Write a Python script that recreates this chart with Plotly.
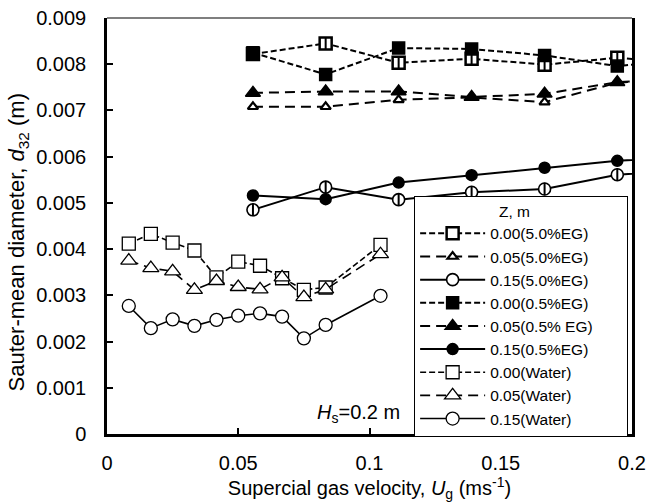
import plotly.graph_objects as go

# ---------------- data ----------------
ug_water = [0.0083, 0.0167, 0.025, 0.0333, 0.0417, 0.05, 0.0583, 0.0667, 0.075, 0.0833, 0.1042]
ug_eg = [0.0556, 0.0833, 0.1111, 0.1389, 0.1667, 0.1944, 0.2222]

d32_000_eg50 = [0.00822, 0.00845, 0.00803, 0.00812, 0.00799, 0.00814, 0.00800]
d32_005_eg50 = [0.00708, 0.00708, 0.00723, 0.00728, 0.00718, 0.00760, 0.00770]
d32_015_eg50 = [0.00485, 0.00534, 0.00507, 0.00523, 0.00530, 0.00561, 0.00570]
d32_000_eg05 = [0.00825, 0.00778, 0.00835, 0.00833, 0.00819, 0.00796, 0.00810]
d32_005_eg05 = [0.00738, 0.00741, 0.00741, 0.00729, 0.00736, 0.00761, 0.00770]
d32_015_eg05 = [0.00516, 0.00508, 0.00544, 0.00560, 0.00576, 0.00591, 0.00600]
d32_000_water = [0.00412, 0.00433, 0.00414, 0.00397, 0.00339, 0.00373, 0.00364, 0.00337, 0.00312, 0.00317, 0.00409]
d32_005_water = [0.00375, 0.00359, 0.00352, 0.00312, 0.00331, 0.00318, 0.00313, 0.00339, 0.00296, 0.00313, 0.00389]
d32_015_water = [0.00277, 0.00229, 0.00248, 0.00234, 0.00247, 0.00256, 0.00261, 0.00254, 0.00207, 0.00236, 0.00299]

names = ["0.00(5.0%EG)", "0.05(5.0%EG)", "0.15(5.0%EG)",
         "0.00(0.5%EG)", "0.05(0.5% EG)", "0.15(0.5%EG)",
         "0.00(Water)", "0.05(Water)", "0.15(Water)"]

FONT = "Liberation Sans, Arial, sans-serif"
SHORT = "6px,3px"
LONG = "10px,6px"

fig = go.Figure()

def add(x, y, name, symbol, size, fill, dash, lw=2, mlw=1.5, overlay=None):
    fig.add_trace(go.Scatter(
        x=x, y=y, name=name, mode="lines+markers",
        line=dict(color="black", width=lw, dash=dash),
        marker=dict(symbol=symbol, size=size, color=fill,
                    line=dict(color="black", width=mlw)),
    ))
    if overlay is not None:
        fig.add_trace(go.Scatter(
            x=x, y=y, mode="markers", showlegend=False, hoverinfo="skip",
            marker=dict(symbol="line-ns", size=overlay, color="black",
                        line=dict(color="black", width=2)),
        ))

add(ug_eg, d32_000_eg50, names[0], "square", 12, "white", SHORT, mlw=2.5, overlay=8)
add(ug_eg, d32_005_eg50, names[1], "triangle-up", 9, "white", LONG, mlw=2.2)
add(ug_eg, d32_015_eg50, names[2], "circle", 12, "white", "solid", mlw=1.6, overlay=9)
add(ug_eg, d32_000_eg05, names[3], "square", 12, "black", SHORT)
add(ug_eg, d32_005_eg05, names[4], "triangle-up", 13, "black", LONG)
add(ug_eg, d32_015_eg05, names[5], "circle", 11, "black", "solid")
add(ug_water, d32_000_water, names[6], "square", 13, "white", SHORT, lw=1.6, mlw=1.3)
add(ug_water, d32_005_water, names[7], "triangle-up", 14, "white", LONG, lw=1.6, mlw=1.3)
add(ug_water, d32_015_water, names[8], "circle", 13, "white", "solid", lw=1.6, mlw=1.3)

fig.add_annotation(
    text="<i>H</i><sub>s</sub>=0.2 m", xref="paper", yref="paper",
    x=0.561, y=0.05, xanchor="right", yanchor="middle", showarrow=False,
    font=dict(family=FONT, size=20, color="black"),
)

# y-axis title (placed as a rotated annotation so it sits like the original)
fig.add_annotation(
    text="Sauter-mean diameter, <i>d</i><sub>32</sub> (m)", xref="paper", yref="paper",
    x=-0.17, y=0.46, xanchor="center", yanchor="middle", textangle=-90,
    showarrow=False, font=dict(family=FONT, size=22, color="black"),
)

# thin top border of the plot area
fig.add_shape(type="line", xref="paper", yref="paper", x0=0, x1=1, y0=1, y1=1,
              line=dict(color="#555555", width=1.3))

NB = "\u00a0"
fig.update_layout(
    width=651, height=504,
    margin=dict(l=107, r=19, t=18, b=70, autoexpand=False),
    paper_bgcolor="white", plot_bgcolor="white",
    font=dict(family=FONT, size=20, color="black"),
    showlegend=True,
    legend=dict(
        x=0.585, y=0.573, xanchor="left", yanchor="top",
        bgcolor="white", bordercolor="black", borderwidth=1,
        font=dict(family=FONT, size=15.5, color="black"),
        title=dict(text=NB * 19 + "Z, m" + NB * 22, font=dict(family=FONT, size=15.5)),
        itemwidth=65, tracegroupgap=0,
    ),
    xaxis=dict(
        range=[0, 0.2], dtick=0.05, tick0=0,
        ticks="inside", ticklen=6, tickwidth=1.5, tickcolor="black",
        showline=True, linecolor="black", linewidth=2.5, mirror=False,
        showgrid=False, zeroline=False, automargin=False,
        ticklabelstandoff=9,
        tickfont=dict(family=FONT, size=20),
        title=dict(text="Supercial gas velocity, <i>U</i><sub>g</sub> (ms<sup>-1</sup>)",
                   font=dict(family=FONT, size=20), standoff=5),
    ),
    yaxis=dict(
        range=[0, 0.009], dtick=0.001, tick0=0,
        ticks="inside", ticklen=6, tickwidth=1.5, tickcolor="black",
        showline=True, linecolor="black", linewidth=2.5, mirror=True,
        showgrid=False, zeroline=False, automargin=False,
        ticklabelstandoff=14,
        tickfont=dict(family=FONT, size=20),
    ),
)

fig.write_html("out.html", config={"displayModeBar": False},
               post_script="document.body.style.margin='0';")
